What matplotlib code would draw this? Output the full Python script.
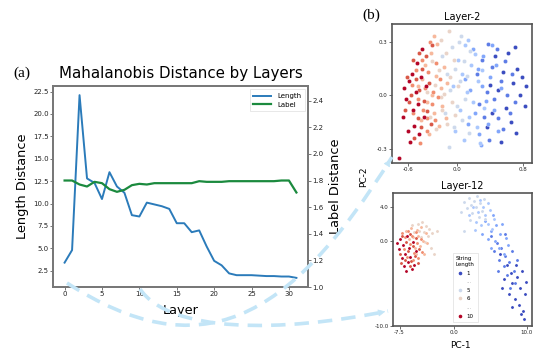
import numpy as np
import matplotlib
matplotlib.use("Agg")
import matplotlib.pyplot as plt
from matplotlib.lines import Line2D
from matplotlib.path import Path
from matplotlib.patches import PathPatch, FancyArrowPatch
from matplotlib.ticker import FormatStrFormatter

# (a) distance by layer
layers = list(range(32))
length_dist = [3.4, 4.8, 22.1, 12.8, 12.3, 10.5, 13.5, 11.9, 11.2, 8.7, 8.55, 10.1,
               9.9, 9.7, 9.4, 7.8, 7.8, 6.8, 7.0, 5.2, 3.6, 3.1, 2.2, 2.0,
               2.0, 2.0, 1.95, 1.9, 1.9, 1.85, 1.85, 1.7]
label_dist = [1.80, 1.80, 1.77, 1.755, 1.79, 1.78, 1.735, 1.715, 1.73, 1.765, 1.775, 1.77,
              1.78, 1.78, 1.78, 1.78, 1.78, 1.78, 1.795, 1.79, 1.79, 1.79, 1.795, 1.795,
              1.795, 1.795, 1.795, 1.795, 1.795, 1.80, 1.80, 1.71]
length_ticks = [2.5, 5.0, 7.5, 10.0, 12.5, 15.0, 17.5, 20.0, 22.5]
label_ticks = [1.0, 1.2, 1.4, 1.6, 1.8, 2.0, 2.2, 2.4]

# (b) PCA of layer 2, points by string length (1..10)
l2_g1 = [(0.36, -0.18), (0.40, 0.06), (0.43, -0.10), (0.46, 0.22), (0.50, 0.03), (0.53, -0.26),
         (0.56, 0.13), (0.59, -0.07), (0.62, 0.24), (0.65, -0.15), (0.68, 0.07), (0.71, -0.21),
         (0.73, 0.15), (0.76, 0.00), (0.79, 0.10), (0.82, -0.06), (0.84, 0.05), (0.70, 0.27)]
l2_g2 = [(0.24, 0.12), (0.27, -0.05), (0.30, 0.20), (0.33, -0.12), (0.36, 0.02), (0.39, -0.25),
         (0.42, 0.16), (0.45, -0.02), (0.48, 0.26), (0.50, -0.13), (0.53, 0.08), (0.56, -0.19),
         (0.58, 0.19), (0.61, 0.00), (0.64, -0.10), (0.67, 0.12), (0.70, -0.04), (0.38, 0.29)]
l2_g3 = [(0.10, 0.09), (0.13, -0.16), (0.16, 0.03), (0.19, 0.26), (0.22, -0.10), (0.25, 0.15),
         (0.27, -0.22), (0.30, 0.05), (0.32, 0.22), (0.35, -0.03), (0.37, -0.16), (0.40, 0.10),
         (0.42, 0.28), (0.45, -0.08), (0.47, 0.17), (0.50, -0.20), (0.53, 0.04), (0.29, -0.28)]
l2_g4 = [(-0.05, 0.05), (-0.02, -0.20), (0.01, 0.20), (0.03, -0.08), (0.06, 0.12), (0.08, -0.25),
         (0.10, 0.28), (0.12, 0.02), (0.15, -0.12), (0.17, 0.17), (0.19, -0.04), (0.22, 0.23),
         (0.24, -0.18), (0.26, 0.08), (0.28, -0.27), (0.30, 0.14), (0.33, -0.07), (0.13, 0.31)]
l2_g5 = [(-0.18, 0.22), (-0.15, -0.10), (-0.12, 0.12), (-0.10, -0.29), (-0.08, 0.03), (-0.06, 0.27),
         (-0.04, -0.18), (-0.02, 0.15), (0.00, -0.06), (0.02, 0.30), (0.04, 0.08), (0.06, -0.14),
         (0.08, 0.19), (0.10, -0.02), (0.12, 0.11), (0.14, -0.21), (0.16, 0.25), (0.05, 0.33)]
l2_g6 = [(-0.36, 0.02), (-0.33, -0.12), (-0.30, 0.19), (-0.27, 0.06), (-0.25, -0.19), (-0.22, 0.14),
         (-0.20, 0.31), (-0.18, -0.08), (-0.16, 0.01), (-0.14, 0.24), (-0.12, -0.16), (-0.10, 0.36),
         (-0.08, 0.10), (-0.06, -0.04), (-0.04, 0.20), (-0.02, -0.11), (0.01, 0.05), (-0.20, -0.01)]
l2_g7 = [(-0.47, 0.05), (-0.44, -0.14), (-0.42, 0.09), (-0.39, 0.17), (-0.37, -0.04), (-0.34, -0.22),
         (-0.32, 0.24), (-0.30, 0.00), (-0.28, -0.10), (-0.26, 0.11), (-0.24, 0.29), (-0.22, -0.17),
         (-0.20, 0.04), (-0.18, -0.06), (-0.16, 0.16), (-0.14, -0.13), (-0.12, 0.07), (-0.28, 0.33)]
l2_g8 = [(-0.55, 0.06), (-0.53, -0.10), (-0.50, 0.14), (-0.48, -0.02), (-0.45, -0.27), (-0.43, 0.20),
         (-0.41, -0.08), (-0.39, 0.04), (-0.37, -0.20), (-0.35, 0.13), (-0.33, 0.30), (-0.31, -0.05),
         (-0.29, 0.02), (-0.27, -0.14), (-0.25, 0.18), (-0.23, -0.01), (-0.21, 0.09), (-0.36, -0.13)]
l2_g9 = [(-0.63, -0.08), (-0.61, 0.10), (-0.58, -0.04), (-0.56, 0.00), (-0.54, 0.20), (-0.52, -0.24),
         (-0.50, 0.09), (-0.48, -0.13), (-0.46, 0.03), (-0.44, -0.18), (-0.42, 0.15), (-0.40, -0.03),
         (-0.38, 0.22), (-0.36, -0.09), (-0.34, 0.07), (-0.32, -0.16), (-0.30, 0.28), (-0.46, 0.24)]
l2_g10 = [(-0.70, -0.35), (-0.66, -0.12), (-0.64, 0.04), (-0.62, -0.02), (-0.60, -0.20), (-0.58, 0.08),
          (-0.57, -0.26), (-0.55, 0.12), (-0.54, -0.08), (-0.52, -0.17), (-0.50, 0.02), (-0.49, 0.18),
          (-0.47, -0.05), (-0.46, -0.22), (-0.44, 0.10), (-0.42, 0.26), (-0.40, -0.12), (-0.38, 0.05)]

# (b) PCA of layer 12
l12_g1 = [(6.3, -1.6), (6.8, -4.5), (7.2, -2.9), (7.5, -6.3), (7.8, -3.8), (8.0, -5.0), (8.3, -6.8),
          (8.5, -2.8), (8.7, -4.3), (8.9, -7.5), (9.1, -5.6), (9.3, -3.6), (9.5, -8.2), (9.7, -6.3),
          (9.9, -4.8), (9.6, -9.2), (8.0, -7.8), (9.2, -8.6), (6.6, -5.5)]
l12_g2 = [(5.0, 0.6), (5.5, -1.2), (5.9, -0.3), (6.2, -2.2), (6.5, -0.9), (6.8, -3.0), (7.0, -1.8),
          (7.3, -4.0), (7.6, -2.5), (7.9, -1.2), (8.2, -3.5), (8.4, -5.0), (7.0, 0.8), (6.0, -3.6),
          (8.7, -2.2), (7.7, -5.6)]
l12_g3 = [(3.8, 0.8), (4.2, 2.3), (4.6, 0.2), (5.0, 1.2), (5.3, 3.0), (5.6, 0.0), (5.8, 1.8),
          (6.1, -0.8), (6.3, 0.8), (6.6, 2.0), (6.8, -1.5), (7.1, 0.3), (5.0, -0.8), (7.4, -0.5)]
l12_g4 = [(2.0, 3.0), (2.6, 4.0), (3.0, 2.2), (3.3, 3.4), (3.7, 1.8), (4.0, 4.0), (4.3, 3.0),
          (4.6, 2.0), (4.9, 3.6), (5.2, 1.4), (3.5, 4.8), (4.7, 4.4), (5.5, 2.6), (2.8, 1.3)]
l12_g5 = [(1.4, 4.6), (1.8, 3.8), (2.0, 5.0), (2.3, 4.2), (2.5, 3.2), (2.7, 4.7), (3.0, 3.9),
          (3.2, 5.3), (3.4, 2.8), (3.6, 4.4), (3.8, 3.5), (4.1, 4.9), (4.3, 2.6), (2.2, 2.4),
          (1.0, 3.4), (1.3, 1.2)]
l12_g6 = [(-5.8, 1.8), (-5.5, 1.0), (-5.0, 2.0), (-4.8, 1.2), (-4.6, 0.4), (-4.4, 2.2), (-4.2, 1.0),
          (-4.0, -0.2), (-3.8, 1.7), (-3.6, 0.6), (-3.4, 1.4), (-3.2, -0.8), (-3.0, 0.9), (-2.4, 1.1),
          (-2.8, -1.6)]
l12_g7 = [(-6.6, 1.1), (-6.2, 0.2), (-5.9, 1.5), (-5.6, 0.4), (-5.4, -0.9), (-5.1, 1.3), (-4.9, 0.5),
          (-4.7, -0.6), (-4.5, 1.6), (-4.3, 0.0), (-4.1, -1.5), (-3.9, 0.9), (-5.2, -1.6), (-3.7, -0.3)]
l12_g8 = [(-7.2, 0.9), (-6.9, -1.0), (-6.5, -1.9), (-6.3, 1.2), (-6.0, -0.4), (-5.8, 0.6), (-5.5, -1.4),
          (-5.3, 1.0), (-5.1, -0.3), (-4.9, -2.0), (-4.6, 0.2), (-4.4, -1.3), (-6.7, 0.4), (-5.7, -2.2)]
l12_g9 = [(-7.5, -1.5), (-7.1, 0.5), (-6.8, -2.3), (-6.6, -0.1), (-6.3, -1.2), (-6.1, 0.8), (-5.9, -2.4),
          (-5.6, -0.6), (-5.4, -1.8), (-5.2, 0.3), (-5.0, -2.6), (-4.8, -1.0), (-7.3, -2.6), (-6.0, -3.0)]
l12_g10 = [(-7.6, -1.0), (-7.4, 0.2), (-7.2, -2.0), (-7.0, -0.5), (-6.9, -3.0), (-6.7, -1.5), (-6.5, 0.5),
           (-6.4, -2.5), (-6.2, -0.8), (-6.0, -1.9), (-5.8, -3.3), (-5.7, -0.2), (-5.5, -2.8), (-5.3, -1.2),
           (-7.8, -0.3), (-6.6, -3.6)]

string_lengths = [1, 2, 3, 4, 5, 6, 7, 8, 9, 10]
legend_labels = ['1', '...', '5', '6', '...', '10']

W, H = 544, 353
fig = plt.figure(figsize=(W / 100, H / 100), dpi=100)
cmap = plt.get_cmap('coolwarm')
gray = '#777777'


def px(x, y):
    # pixel (top-left origin) -> figure fraction
    return (x / W, 1 - y / H)


def style_axes(a, color, lw):
    for s in a.spines.values():
        s.set_color(color)
        s.set_linewidth(lw)


# ---------------- (a)
ax = fig.add_axes([53 / W, 1 - 287 / H, 255 / W, 201 / H])
ax2 = ax.twinx()
l1, = ax.plot(layers, length_dist, color='#2b7bba', lw=1.4, label='Length')
l2, = ax2.plot(layers, label_dist, color='#1b8a3e', lw=1.6, label='Label')
ax.set_yticks(length_ticks)
ax.yaxis.set_major_formatter(FormatStrFormatter('%.1f'))
ax.set_xticks([0, 5, 10, 15, 20, 25, 30])
ax2.set_ylim(1.0, 2.51)
ax2.set_yticks(label_ticks)
ax2.yaxis.set_major_formatter(FormatStrFormatter('%.1f'))
for a in (ax, ax2):
    style_axes(a, gray, 1.3)
    a.tick_params(labelsize=5, length=2, width=0.7, color=gray, pad=1, labelcolor='#222222')
ax.set_title('Mahalanobis Distance by Layers', fontsize=10.8, pad=6)
ax.set_ylabel('Length Distance', fontsize=9.3, labelpad=3)
ax2.set_ylabel('Label Distance', fontsize=9.3, labelpad=4)
ax.set_xlabel('Layer', fontsize=9.3, labelpad=5)
leg = ax2.legend([l1, l2], ['Length', 'Label'], loc='upper right', fontsize=5,
                 handlelength=2.6, borderpad=0.5, labelspacing=0.4, fancybox=False)
leg.get_frame().set_edgecolor('#dddddd')
leg.get_frame().set_linewidth(0.6)

fig.text(13 / W, 1 - 73 / H, '(a)', family='Liberation Serif', fontsize=11, va='center')
fig.text(362 / W, 1 - 15 / H, '(b)', family='Liberation Serif', fontsize=11, va='center')

# ---------------- (b) layer 2
l2_groups = [l2_g1, l2_g2, l2_g3, l2_g4, l2_g5, l2_g6, l2_g7, l2_g8, l2_g9, l2_g10]
l12_groups = [l12_g1, l12_g2, l12_g3, l12_g4, l12_g5, l12_g6, l12_g7, l12_g8, l12_g9, l12_g10]

axb1 = fig.add_axes([392 / W, 1 - 163 / H, 140 / W, 139 / H])
for k, pts in zip(string_lengths, l2_groups):
    pts = np.array(pts)
    axb1.scatter(pts[:, 0], pts[:, 1], s=9, color=cmap((k - 1) / 9), edgecolors='white',
                 linewidths=0.2, zorder=3)
axb1.set_xlim(-0.79, 0.91)
axb1.set_ylim(-0.38, 0.40)
axb1.set_xticks([-0.6, 0.0, 0.8])
axb1.set_yticks([-0.3, 0.0, 0.3])
axb1.set_title('Layer-2', fontsize=7, pad=3)

# ---------------- (b) layer 12
axb2 = fig.add_axes([393 / W, 1 - 326 / H, 139 / W, 133 / H])
for k, pts in zip(string_lengths, l12_groups):
    pts = np.array(pts)
    axb2.scatter(pts[:, 0], pts[:, 1], s=5, color=cmap((k - 1) / 9), edgecolors='white',
                 linewidths=0.15, zorder=3)
axb2.set_xlim(-8.4, 10.7)
axb2.set_ylim(-10.0, 5.6)
axb2.set_xticks([-7.5, 0.0, 10.0])
axb2.set_yticks([-10.0, 0.0, 4.0])
axb2.set_title('Layer-12', fontsize=7, pad=3)

for a in (axb1, axb2):
    style_axes(a, '#555555', 1.2)
    a.tick_params(labelsize=4, length=2, width=0.6, color='#555555', pad=1, labelcolor='#222222')
    a.xaxis.set_major_formatter(FormatStrFormatter('%.1f'))
    a.yaxis.set_major_formatter(FormatStrFormatter('%.1f'))

handles = []
for lab in legend_labels:
    if lab == '...':
        handles.append(Line2D([], [], ls='none'))
    else:
        handles.append(Line2D([], [], ls='none', marker='o', ms=1.6,
                              color=cmap((int(lab) - 1) / 9)))
lg = axb2.legend(handles, legend_labels, title='String\nLength', loc='lower center',
                 bbox_to_anchor=(0.52, 0.01), fontsize=4, title_fontsize=4, labelspacing=0.65,
                 handlelength=1.2, handletextpad=0.6, borderpad=0.6, fancybox=False)
lg.get_frame().set_edgecolor('#dddddd')
lg.get_frame().set_linewidth(0.6)
for t in lg.get_texts():
    if t.get_text() == '...':
        t.set_color('#aaaaaa')

fig.text(364 / W, 1 - 177 / H, 'PC-2', fontsize=6.5, rotation=90, ha='center', va='center')
fig.text(460 / W, 1 - 345 / H, 'PC-1', fontsize=6.5, ha='center', va='center')

# ---------------- dashed connectors
arrow_col = '#c3e5f7'
curves = [
    [(67, 283), (199, 368), (288, 324), (392, 157)],
    [(140, 289), (170, 333), (280, 333), (388, 311)],
]
for pts in curves:
    verts = [px(*p) for p in pts]
    path = Path(verts, [Path.MOVETO, Path.CURVE4, Path.CURVE4, Path.CURVE4])
    fig.patches.append(PathPatch(path, transform=fig.transFigure, fill=False,
                                 edgecolor=arrow_col, lw=2.6, ls=(0, (4, 2.5)),
                                 capstyle='butt'))
    (x2, y2), (x3, y3) = pts[2], pts[3]
    d = np.hypot(x3 - x2, y3 - y2)
    start = (x3 - (x3 - x2) / d * 8, y3 - (y3 - y2) / d * 8)
    fig.patches.append(FancyArrowPatch(px(*start), px(x3, y3), transform=fig.transFigure,
                                       arrowstyle='-|>', mutation_scale=11, color=arrow_col,
                                       lw=0.5))

fig.savefig('out.png', dpi=100)
